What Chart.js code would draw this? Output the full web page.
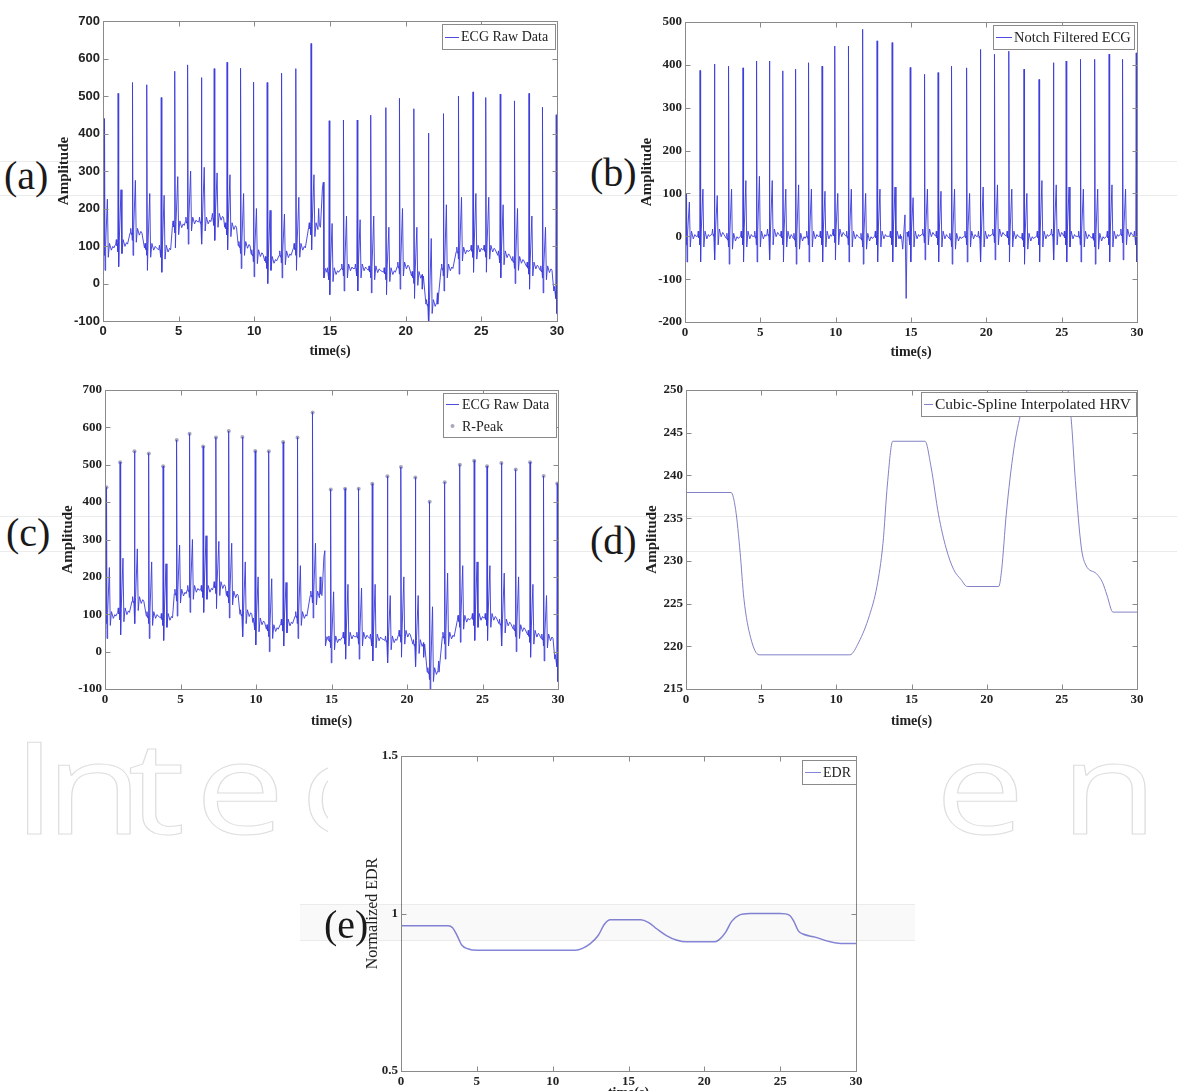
<!DOCTYPE html>
<html><head><meta charset="utf-8">
<script src="https://cdn.jsdelivr.net/npm/chart.js@4.4.1/dist/chart.umd.min.js"></script>
<style>
html,body{margin:0;padding:0;background:#fff;}
body{width:1177px;height:1091px;overflow:hidden;position:relative;}
canvas{position:absolute;}
.lbl{position:absolute;font-family:'Liberation Serif','DejaVu Serif',serif;font-size:40px;color:#1a1a1a;line-height:1;z-index:3;white-space:nowrap;}
.wm{position:absolute;font-family:'Open Sans','Lato',sans-serif;font-size:128px;line-height:1;color:transparent;-webkit-text-stroke:1px #dedede;transform-origin:0 0;transform:scaleX(1.25);z-index:0;}
.band{position:absolute;height:0;border-top:1px solid rgba(0,0,0,0.08);z-index:5;}
.panel{position:absolute;background:#fff;z-index:1;}
</style></head><body>
<script>
// ---------------- DATA ----------------
const timeTicks = [0, 5, 10, 15, 20, 25, 30];
const ampTicksRaw = [-100, 0, 100, 200, 300, 400, 500, 600, 700];
const ampTicksNotch = [-200, -100, 0, 100, 200, 300, 400, 500];
const hrvTicks = [215, 220, 225, 230, 235, 240, 245, 250];
const edrTicks = [0.5, 1, 1.5];

// R-peak times (s) (a)-(c)
const beatTimes = [0.1, 1.0, 1.95, 2.9, 3.85, 4.75, 5.6, 6.5, 7.35, 8.2, 9.1, 9.95, 10.85, 11.8, 12.75, 13.75,
  14.95, 15.9, 16.8, 17.7, 18.7, 19.6, 20.55, 21.5, 22.5, 23.5, 24.45, 25.3, 26.25, 27.2, 28.15, 29.05, 29.95];
// raw ECG: R-peak amplitude, local baseline, secondary (T) spike amplitude
const rawR = [440, 507, 536, 530, 496, 566, 583, 549, 573, 590, 574, 537, 536, 561, 573, 640,
  434, 436, 436, 449, 469, 494, 466, 401, 453, 500, 511, 496, 505, 487, 507, 470, 450];
const rawBase = [95, 105, 135, 95, 90, 155, 165, 165, 175, 150, 100, 78, 60, 75, 95, 150,
  30, 40, 40, 35, 30, 45, 20, -55, 40, 85, 90, 90, 75, 60, 45, 35, -20];
const rawT = [225, 250, 275, 240, 235, 285, 300, 310, 295, 290, 240, 200, 195, 185, 230, 290,
  160, 180, 170, 180, 150, 200, 150, 120, 210, 230, 240, 230, 210, 200, 180, 150, 100];
// extra baseline-wander points of the raw ECG [t, amplitude]
const rawKnots = [[0, 60], [14.25, 200], [14.5, 255], [14.56, 270], [14.6, 15], [14.7, 40], [21.1, -15], [22.1, -25]];

// notch-filtered ECG
const notchR = [100, 387, 402, 397, 393, 409, 409, 386, 390, 405, 397, 444, 444, 483, 456, 452,
  394, 378, 382, 397, 393, 436, 425, 432, 390, 366, 405, 409, 413, 413, 425, 413, 428];
const notchBase = [0, 0, 5, -5, 0, 0, 5, 0, -5, 0, 0, 5, 0, -5, 0, 0,
  0, 5, 0, -5, 0, 0, 5, 0, -5, 0, 5, 0, 0, -5, 0, 5, 0];
const notchT = [80, 110, 95, 110, 130, 140, 130, 110, 120, 110, 105, 100, 110, 100, 110, 115,
  90, 110, 105, 110, 100, 115, 120, 110, 100, 130, 120, 115, 110, 110, 120, 110, 100];
const notchKnots = [[0, 0], [14.3, -5], [14.45, -30], [14.6, 50], [14.68, -145], [14.74, 10], [14.85, 0]];

// cubic-spline interpolated HRV
const hrvT = [0, 3.0, 3.3, 3.6, 3.85, 4.3, 4.86, 10.9, 11.5, 12.2, 12.7, 13.1, 13.4, 13.75, 15.9, 16.3, 16.8, 17.3, 17.8, 18.3, 18.7,
  20.8, 21.0, 21.3, 21.8, 22.3, 22.7, 23.5, 24.5, 25.4, 25.65, 25.9, 26.3, 26.6, 27.3, 27.7, 28.0, 28.4, 30];
const hrvV = [238, 238, 236, 231, 225.6, 221, 219, 219, 220.5, 223.6, 227, 232, 239, 244, 244, 241, 235.4, 231.5, 229, 227.8, 227,
  227, 229, 235.4, 243, 247.5, 250, 252, 252, 250, 246, 239.4, 231.5, 229.5, 228.5, 227.5, 226, 224, 224];

// normalized EDR
const edrT = [0, 3.1, 3.4, 3.7, 4.0, 4.4, 5.0, 11.5, 12.0, 12.5, 13.0, 13.4, 13.8, 15.8, 16.3, 16.9, 17.5, 18.2, 18.8,
  20.7, 21.0, 21.4, 21.8, 22.3, 23.0, 25.0, 25.6, 25.9, 26.2, 26.5, 27.3, 28.3, 29.0, 30];
const edrV = [0.961, 0.961, 0.955, 0.93, 0.9, 0.888, 0.883, 0.883, 0.89, 0.905, 0.93, 0.965, 0.98, 0.98, 0.972, 0.95, 0.93, 0.915, 0.91,
  0.91, 0.918, 0.94, 0.975, 0.995, 1.0, 1.0, 0.995, 0.975, 0.945, 0.935, 0.925, 0.91, 0.905, 0.905];

// ---------------- STYLE / BUILD ----------------
const SERIF = "'Liberation Serif','Times New Roman',serif";
const SANS = "'Liberation Sans Narrow','Liberation Sans',Arial,sans-serif";
const ECG_COLOR = 'rgba(62,62,218,0.92)';
// beat waveform shape: [time offset from R, value relative to baseline | 'R' | 'T']
const SHAPE = [[-0.16, 0], [-0.12, 12], [-0.08, -4], [-0.04, 0], [-0.02, -20], [0, 'R'], [0.035, -60], [0.075, 10],
  [0.19, 'T'], [0.25, -25], [0.33, 12], [0.45, -6], [0.55, 4], [0.62, 0]];

function buildEcg(times, R, B, T, knots) {
  const pts = [];
  times.forEach((t, i) => {
    SHAPE.forEach(([dt, v]) => {
      const y = v === 'R' ? R[i] : (v === 'T' ? T[i] : B[i] + v);
      pts.push({x: Math.round((t + dt) * 1000) / 1000, y});
    });
  });
  knots.forEach(([x, y]) => pts.push({x, y}));
  pts.sort((a, b) => a.x - b.x);
  return pts;
}
const zip = (xs, ys) => xs.map((x, i) => ({x, y: ys[i]}));

const rawPts = buildEcg(beatTimes, rawR, rawBase, rawT, rawKnots);
const notchPts = buildEcg(beatTimes, notchR, notchBase, notchT, notchKnots);
const peakPts = zip(beatTimes, rawR);

function framePlugin(spec) {
  return {
    id: 'frame',
    beforeDraw(chart) {
      const {ctx, chartArea: a} = chart;
      ctx.save(); ctx.fillStyle = '#fff';
      ctx.fillRect(a.left, a.top, a.right - a.left, a.bottom - a.top);
      ctx.restore();
    },
    afterDraw(chart) {
      const {ctx, chartArea: a, scales} = chart;
      const x = scales.x, y = scales.y;
      const L = Math.round(a.left) + 0.5, R = Math.round(a.right) + 0.5, T = Math.round(a.top) + 0.5, B = Math.round(a.bottom) + 0.5;
      ctx.save();
      ctx.strokeStyle = '#8a8a8a'; ctx.lineWidth = 1;
      ctx.strokeRect(L, T, R - L, B - T);
      ctx.beginPath();
      x.ticks.forEach(tk => {
        const px = Math.round(x.getPixelForValue(tk.value)) + 0.5;
        ctx.moveTo(px, B); ctx.lineTo(px, B - 5);
        ctx.moveTo(px, T); ctx.lineTo(px, T + 5);
      });
      y.ticks.forEach(tk => {
        const py = Math.round(y.getPixelForValue(tk.value)) + 0.5;
        ctx.moveTo(L, py); ctx.lineTo(L + 5, py);
        ctx.moveTo(R, py); ctx.lineTo(R - 5, py);
      });
      ctx.stroke();
      // legend box
      const lg = spec.legend;
      const bx2 = Math.round(a.right) - lg.right, bx1 = bx2 - lg.w, by1 = Math.round(a.top) + lg.top;
      ctx.fillStyle = '#fff'; ctx.fillRect(bx1, by1, lg.w, lg.h);
      ctx.strokeStyle = '#8a8a8a'; ctx.strokeRect(bx1 + 0.5, by1 + 0.5, lg.w, lg.h);
      const ds = chart.data.datasets, rowH = lg.h / ds.length;
      ds.forEach((d, i) => {
        const cy = by1 + rowH * (i + 0.5);
        if (d.showLine === false) {
          ctx.fillStyle = d.pointBackgroundColor;
          ctx.beginPath(); ctx.arc(bx1 + (lg.sx1 + lg.sx2) / 2, cy, 2, 0, Math.PI * 2); ctx.fill();
        } else {
          ctx.strokeStyle = d.borderColor; ctx.lineWidth = 1;
          ctx.beginPath(); ctx.moveTo(bx1 + lg.sx1, Math.round(cy) + 0.5); ctx.lineTo(bx1 + lg.sx2, Math.round(cy) + 0.5); ctx.stroke();
        }
        ctx.fillStyle = '#1e1e1e'; ctx.font = (lg.fs || 14) + "px " + SERIF;
        ctx.textBaseline = 'middle'; ctx.textAlign = 'left';
        ctx.fillText(d.label, bx1 + lg.tx, cy + 1);
      });
      ctx.restore();
    }
  };
}

function makeChart(spec) {
  const CL = spec.yTitleX - 10, CT = spec.t - 14, CR = spec.r + 22, CB = spec.xTitleY + 10;
  const cv = document.createElement('canvas');
  cv.width = CR - CL; cv.height = CB - CT;
  cv.style.left = CL + 'px'; cv.style.top = CT + 'px'; cv.style.zIndex = 2;
  document.body.appendChild(cv);
  const YW = spec.l - CL, XH = CB - spec.b;
  const tickFont = {family: spec.tickFamily || SERIF, size: 13, weight: 'bold'};
  const setTicks = arr => s => { s.ticks = arr.map(v => ({value: v})); };
  new Chart(cv, {
    type: 'line',
    data: {datasets: spec.datasets},
    options: {
      responsive: false, animation: false, devicePixelRatio: 1,
      layout: {padding: {left: 0, top: spec.t - CT, right: CR - spec.r, bottom: 0}},
      plugins: {legend: {display: false}, tooltip: {enabled: false}},
      elements: {point: {radius: 0}, line: {tension: 0}},
      scales: {
        x: {
          type: 'linear', min: 0, max: 30,
          afterBuildTicks: setTicks(timeTicks), afterFit: s => { s.height = XH; },
          grid: {display: false, drawTicks: false}, border: {display: false},
          ticks: {padding: 3, font: tickFont, color: '#222', maxRotation: 0, autoSkip: false, callback: v => String(v)},
          title: {display: true, text: 'time(s)', color: '#222', font: {family: SERIF, size: 14, weight: 'bold'}, padding: {top: 0, bottom: 1.6}}
        },
        y: {
          type: 'linear', min: spec.yTicks[0], max: spec.yTicks[spec.yTicks.length - 1],
          afterBuildTicks: setTicks(spec.yTicks), afterFit: s => { s.width = YW; },
          grid: {display: false, drawTicks: false}, border: {display: false},
          ticks: {padding: 3, font: tickFont, color: '#222', autoSkip: false, callback: v => String(v)},
          title: {display: true, text: spec.yTitle, color: '#222', font: {family: SERIF, size: spec.yTitleSize || 15, weight: spec.yTitleWeight || 'bold'}, padding: {top: 1, bottom: 0}}
        }
      }
    },
    plugins: [framePlugin(spec)]
  });
}

// ---------------- PAGE DECOR ----------------
function addDiv(cls, css, text) {
  const d = document.createElement('div'); d.className = cls;
  Object.assign(d.style, css); if (text) d.textContent = text;
  document.body.appendChild(d); return d;
}
// watermark
[['I', 12], ['n', 45], ['t', 128], ['e', 195], ['c', 300], ['p', 815], ['e', 935], ['n', 1060]].forEach(([ch, x]) =>
  addDiv('wm', {left: x + 'px', top: '721px'}, ch));
addDiv('panel', {left: '328px', top: '740px', width: '577px', height: '351px'});
// panel letters
[['(a)', 4, 179], ['(b)', 590, 176], ['(c)', 6, 536], ['(d)', 590, 544], ['(e)', 324, 928]].forEach(([t, x, cy]) =>
  addDiv('lbl', {left: x + 'px', top: (cy - 23) + 'px'}, t));
// faint scan bands
[[161, 0, 1177], [195, 0, 1177], [516, 0, 1177], [551, 0, 1177], [904, 300, 615], [940, 300, 615]].forEach(([y, x, w]) =>
  addDiv('band', {left: x + 'px', top: y + 'px', width: w + 'px'}));
addDiv('band', {left: '300px', top: '905px', width: '615px', height: '35px', borderTop: 'none', background: 'rgba(0,0,0,0.025)'});

// ---------------- CHARTS ----------------
makeChart({l: 103, r: 557, t: 21, b: 321, yTitleX: 64, xTitleY: 351, yTicks: ampTicksRaw, yTitle: 'Amplitude', tickFamily: SANS,
  legend: {w: 113, h: 25, top: 3, right: 2, sx1: 3, sx2: 17, tx: 19},
  datasets: [{label: 'ECG Raw Data', data: rawPts, borderColor: ECG_COLOR, borderWidth: 1, pointRadius: 0}]});

makeChart({l: 685, r: 1137, t: 22, b: 322, yTitleX: 647, xTitleY: 352, yTicks: ampTicksNotch, yTitle: 'Amplitude',
  legend: {w: 141, h: 24, top: 3, right: 3, sx1: 3, sx2: 19, tx: 21, fs: 14.5},
  datasets: [{label: 'Notch Filtered ECG', data: notchPts, borderColor: ECG_COLOR, borderWidth: 1, pointRadius: 0}]});

makeChart({l: 105, r: 558, t: 390, b: 689, yTitleX: 68, xTitleY: 721, yTicks: ampTicksRaw, yTitle: 'Amplitude',
  legend: {w: 113, h: 44, top: 3, right: 2, sx1: 3, sx2: 16, tx: 19},
  datasets: [
    {label: 'ECG Raw Data', data: rawPts, borderColor: ECG_COLOR, borderWidth: 1, pointRadius: 0},
    {label: 'R-Peak', data: peakPts, showLine: false, pointRadius: 2, pointBackgroundColor: '#a8a8bc', pointBorderWidth: 0, borderColor: '#a8a8bc'}
  ]});

makeChart({l: 686, r: 1137, t: 390, b: 689, yTitleX: 652, xTitleY: 721, yTicks: hrvTicks, yTitle: 'Amplitude',
  legend: {w: 215, h: 24, top: 2, right: 1, sx1: 3, sx2: 12, tx: 14, fs: 15.5},
  datasets: [{label: 'Cubic-Spline Interpolated HRV', data: zip(hrvT, hrvV), borderColor: '#8282c6', borderWidth: 1, pointRadius: 0, cubicInterpolationMode: 'monotone'}]});

makeChart({l: 401, r: 856, t: 756, b: 1071, yTitleX: 372, xTitleY: 1093, yTicks: edrTicks, yTitle: 'Normalized EDR', yTitleSize: 16, yTitleWeight: 'normal',
  legend: {w: 54, h: 24, top: 4, right: 0, sx1: 3, sx2: 19, tx: 21},
  datasets: [{label: 'EDR', data: zip(edrT, edrV), borderColor: '#8585d8', borderWidth: 1.5, pointRadius: 0, cubicInterpolationMode: 'monotone'}]});
</script>
</body></html>
